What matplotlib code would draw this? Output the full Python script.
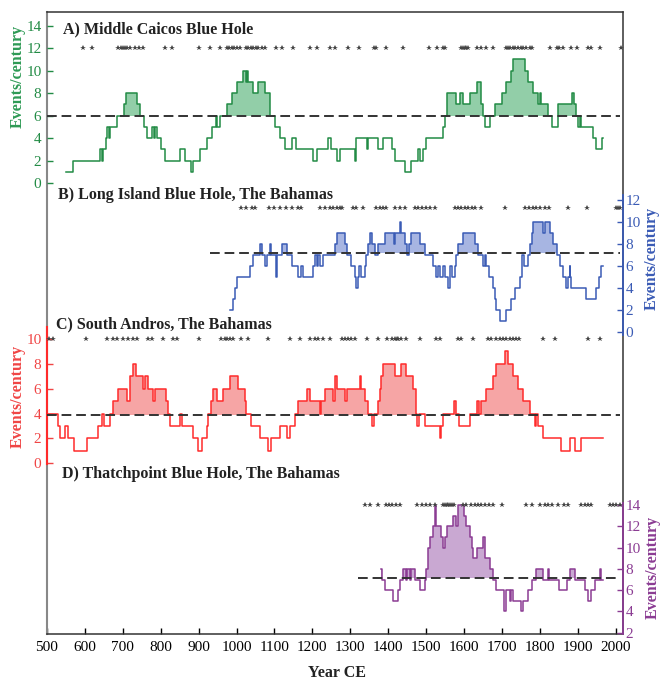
import numpy as np
import matplotlib.pyplot as plt

plt.rcParams['font.family'] = ['Liberation Serif', 'DejaVu Serif']

# 100-yr running event counts: (start year of each step, count)
a_years = [549, 568, 640, 644, 649, 656, 659, 663, 666, 684, 703, 708, 738, 745, 756, 763, 776, 782,
           785, 789, 802, 811, 851, 864, 881, 886, 903, 921, 934, 946, 949, 956, 974, 987, 1002, 1018,
           1024, 1028, 1031, 1044, 1057, 1075, 1088, 1101, 1114, 1127, 1145, 1158, 1202, 1211, 1242,
           1249, 1264, 1272, 1312, 1316, 1343, 1347, 1373, 1387, 1409, 1417, 1444, 1461, 1479, 1483,
           1492, 1501, 1545, 1549, 1554, 1580, 1589, 1597, 1615, 1633, 1646, 1650, 1655, 1668, 1681,
           1699, 1712, 1725, 1729, 1760, 1769, 1782, 1795, 1800, 1803, 1822, 1833, 1848, 1885, 1889,
           1896, 1901, 1905, 1908, 1940, 1949, 1964]
a_counts = [1, 2, 3, 2, 3, 4, 5, 4, 5, 6, 7, 8, 7, 6, 5, 4, 5, 4,
            5, 4, 3, 2, 3, 2, 1, 2, 3, 4, 5, 6, 5, 6, 7, 8, 9, 10,
            9, 10, 9, 8, 9, 8, 6, 5, 4, 3, 4, 3, 2, 3, 4,
            3, 2, 3, 2, 4, 3, 4, 3, 4, 3, 2, 1, 2, 3, 2,
            3, 4, 5, 6, 8, 7, 8, 7, 8, 9, 7, 6, 5, 6, 7,
            8, 9, 10, 11, 10, 9, 8, 7, 8, 7, 6, 5, 7, 8, 7,
            6, 5, 6, 5, 4, 3, 4]
a_stars = [594, 618, 688, 694, 700, 706, 712, 719, 732, 743, 754, 811, 831, 901, 931, 956, 974, 981,
           987, 994, 1002, 1009, 1024, 1031, 1037, 1044, 1051, 1057, 1066, 1075, 1105, 1119, 1149,
           1193, 1211, 1246, 1259, 1294, 1323, 1362, 1369, 1394, 1438, 1508, 1529, 1545, 1549, 1593,
           1597, 1602, 1606, 1611, 1633, 1646, 1659, 1677, 1710, 1716, 1722, 1729, 1735, 1742, 1749,
           1756, 1764, 1773, 1780, 1826, 1844, 1851, 1861, 1883, 1898, 1927, 1936, 1958, 2015]

b_years = [982, 991, 996, 1002, 1035, 1044, 1062, 1066, 1075, 1079, 1088, 1092, 1103, 1107, 1121,
           1134, 1145, 1163, 1171, 1176, 1202, 1207, 1211, 1215, 1220, 1228, 1259, 1264, 1286, 1290,
           1303, 1312, 1316, 1320, 1323, 1327, 1338, 1341, 1347, 1351, 1358, 1365, 1373, 1391, 1416,
           1419, 1430, 1435, 1444, 1450, 1454, 1461, 1483, 1496, 1518, 1525, 1532, 1536, 1545, 1549,
           1558, 1562, 1569, 1576, 1578, 1584, 1597, 1628, 1637, 1650, 1655, 1657, 1666, 1677, 1681,
           1685, 1696, 1710, 1725, 1734, 1747, 1754, 1758, 1769, 1773, 1778, 1782, 1808, 1813, 1826,
           1835, 1844, 1852, 1861, 1870, 1874, 1879, 1880, 1883, 1923, 1949, 1956, 1962]
b_counts = [2, 3, 4, 5, 6, 7, 8, 7, 6, 7, 8, 7, 5, 7, 8,
            7, 6, 5, 6, 5, 6, 7, 6, 7, 6, 7, 8, 9, 8, 7,
            6, 5, 4, 5, 6, 5, 6, 7, 8, 9, 8, 7, 8, 9, 8,
            9, 10, 9, 8, 7, 8, 9, 8, 7, 6, 5, 6, 5, 6, 5,
            4, 6, 5, 6, 7, 8, 9, 8, 7, 6, 7, 6, 5, 4, 3,
            2, 1, 2, 3, 4, 5, 7, 6, 7, 8, 9, 10, 9, 10, 9,
            8, 7, 6, 5, 4, 5, 6, 5, 4, 3, 4, 5, 6]
b_stars = [1013, 1026, 1040, 1048, 1086, 1098, 1114, 1130, 1145, 1161, 1171, 1220, 1233, 1246, 1255,
           1264, 1272, 1279, 1306, 1316, 1334, 1369, 1378, 1387, 1395, 1417, 1430, 1444, 1470, 1479,
           1490, 1501, 1510, 1523, 1576, 1584, 1593, 1602, 1611, 1620, 1628, 1646, 1707, 1760, 1771,
           1782, 1791, 1801, 1813, 1824, 1874, 1924, 2000, 2006, 2012]

c_years = [500, 530, 534, 547, 556, 571, 606, 635, 644, 650, 666, 675, 688, 710, 719, 728, 736, 754,
           758, 767, 779, 785, 814, 818, 824, 851, 857, 884, 897, 908, 921, 925, 932, 938, 949, 963,
           982, 1004, 1022, 1026, 1037, 1062, 1083, 1090, 1114, 1134, 1141, 1154, 1163, 1185, 1193,
           1220, 1224, 1233, 1255, 1259, 1264, 1286, 1290, 1325, 1328, 1338, 1347, 1358, 1362, 1373,
           1378, 1382, 1387, 1417, 1435, 1448, 1466, 1474, 1476, 1481, 1496, 1536, 1539, 1545, 1573,
           1578, 1587, 1615, 1633, 1640, 1646, 1659, 1677, 1685, 1707, 1716, 1729, 1742, 1756, 1773,
           1786, 1790, 1795, 1808, 1857, 1879, 1892, 1909]
c_counts = [4, 3, 2, 3, 2, 1, 2, 3, 4, 3, 4, 5, 6, 5, 7, 8, 7, 6,
            7, 6, 5, 6, 5, 4, 3, 4, 3, 2, 1, 2, 3, 4, 5, 6, 5, 6,
            7, 6, 5, 4, 3, 2, 1, 2, 3, 2, 3, 4, 5, 6, 5,
            4, 5, 6, 5, 7, 6, 5, 6, 7, 6, 5, 4, 3, 4, 5,
            6, 7, 8, 7, 8, 7, 6, 4, 3, 4, 3, 2, 3, 4, 5,
            4, 3, 4, 5, 4, 5, 6, 7, 8, 9, 8, 7, 6, 5, 4,
            3, 4, 3, 2, 1, 2, 1, 2]
c_stars = [506, 517, 603, 657, 675, 685, 701, 714, 726, 738, 767, 776, 807, 833, 842, 902, 960, 969,
           974, 982, 991, 1013, 1031, 1083, 1141, 1167, 1193, 1207, 1215, 1228, 1246, 1277, 1286,
           1294, 1303, 1312, 1343, 1373, 1397, 1409, 1417, 1422, 1426, 1435, 1446, 1483, 1527, 1536,
           1584, 1593, 1624, 1663, 1672, 1685, 1694, 1703, 1712, 1721, 1729, 1736, 1745, 1808, 1839,
           1927, 1958]

d_years = [1382, 1384, 1391, 1413, 1426, 1432, 1439, 1446, 1450, 1457, 1461, 1470, 1483, 1496, 1501,
           1505, 1511, 1518, 1524, 1527, 1540, 1545, 1549, 1554, 1571, 1580, 1584, 1599, 1606, 1615,
           1620, 1624, 1633, 1650, 1655, 1668, 1677, 1685, 1705, 1710, 1720, 1725, 1729, 1751, 1756,
           1769, 1778, 1791, 1808, 1822, 1824, 1850, 1872, 1879, 1892, 1918, 1927, 1936, 1945, 1958,
           1960]
d_counts = [8, 7, 6, 5, 6, 7, 8, 7, 8, 7, 8, 7, 6, 7, 8,
            10, 11, 12, 14, 12, 11, 10, 11, 12, 13, 12, 14, 13, 12, 11,
            10, 9, 10, 11, 9, 8, 7, 6, 4, 6, 5, 6, 5, 4, 5,
            6, 7, 8, 7, 8, 7, 6, 7, 8, 7, 6, 5, 6, 7, 8,
            7]
d_stars = [1338, 1351, 1373, 1394, 1402, 1411, 1420, 1430, 1476, 1488, 1501, 1510, 1523, 1545, 1549,
           1554, 1558, 1562, 1567, 1573, 1598, 1606, 1619, 1628, 1637, 1646, 1655, 1666, 1677, 1701,
           1764, 1778, 1801, 1813, 1822, 1833, 1848, 1865, 1874, 1909, 1918, 1927, 1936, 1984, 1993,
           2002, 2011]

W, H = 660, 682
XLIM = (500, 2018)


def box(x0, y0, x1, y1):
    """Axes rectangle from pixel corners (origin top-left)."""
    return [x0 / W, 1 - y1 / H, (x1 - x0) / W, (y1 - y0) / H]


def panel(rect, ylim, ticks, side, color):
    ax = fig.add_axes(rect)
    ax.patch.set_visible(False)
    ax.set_xlim(*XLIM)
    ax.set_ylim(*ylim)
    ax.set_xticks([])
    for s in ax.spines.values():
        s.set_visible(False)
    ax.set_yticks(ticks)
    if side == 'right':
        ax.yaxis.tick_right()
        ax.spines['right'].set_visible(True)
        ax.spines['right'].set_color(color)
        ax.spines['right'].set_linewidth(1.3)
        pad = 2
    else:
        pad = 4
    ax.tick_params(axis='y', direction='in', length=4, width=1, color=color,
                   labelcolor=color, labelsize=11, pad=pad)
    return ax


def draw_series(ax, years, counts, end, thr, thr_start, stars, star_y, line_c, fill_c):
    x = np.append(years, end)
    y = np.append(counts, counts[-1]).astype(float)
    ax.fill_between(x, thr, np.maximum(y, thr), step='post', color=fill_c, lw=0, zorder=1)
    ax.step(x, y, where='post', color=line_c, lw=1.1, zorder=3)
    ax.plot([thr_start, 2012], [thr, thr], ls=(0, (5, 2.5)), color='#333333', lw=1.4, zorder=4)
    ax.plot(stars, np.full(len(stars), star_y), ls='none', marker='*', ms=3.8,
            color='#444444', mew=0, clip_on=False, zorder=5)


fig = plt.figure(figsize=(W / 100, H / 100), dpi=100)

# outer frame carrying the shared year axis
frame = fig.add_axes(box(47, 12, 622.5, 634.3))
frame.set_xlim(*XLIM)
frame.set_yticks([])
frame.set_xticks(np.arange(500, 2001, 100))
frame.tick_params(axis='x', direction='in', length=4, width=1, labelsize=11, pad=5)
frame.spines['left'].set_color('#888888')
frame.spines['left'].set_linewidth(1.5)
for s in ('top', 'right', 'bottom'):
    frame.spines[s].set_color('#333333')
    frame.spines[s].set_linewidth(1.1)

green, green_txt, green_fill = '#228B45', '#2E9A55', '#92CEA8'
blue, blue_fill = '#3A5BB5', '#A7B5E2'
red, red_txt, red_fill = '#FF2B2B', '#F04545', '#F6A5A5'
purple, purple_fill = '#8B3C93', '#C9A8D2'

ax_a = panel(box(47, 12, 622.5, 189.5), (-0.58, 15.22), range(0, 15, 2), 'left', green)
ax_b = panel(box(47, 195, 622.5, 335), (-0.245, 12.45), range(0, 13, 2), 'right', blue)
ax_c = panel(box(47, 327, 622.5, 463.6), (-0.03, 10.97), range(0, 11, 2), 'left', red_txt)
ax_c.spines['left'].set_visible(True)
ax_c.spines['left'].set_color(red)
ax_c.spines['left'].set_linewidth(1.5)
ax_d = panel(box(47, 503, 622.5, 634.3), (1.85, 14.19), range(2, 15, 2), 'right', purple)

draw_series(ax_a, a_years, a_counts, 1966, 6.0, 500, a_stars, 12, green, green_fill)
draw_series(ax_b, b_years, b_counts, 1966, 7.15, 930, b_stars, 11.25, blue, blue_fill)
draw_series(ax_c, c_years, c_counts, 1966, 3.86, 500, c_stars, 10, red, red_fill)
draw_series(ax_d, d_years, d_counts, 1966, 7.1, 1320, d_stars, 14, purple, purple_fill)

titles = [("A) Middle Caicos Blue Hole", 63, 29),
          ("B) Long Island Blue Hole, The Bahamas", 58, 195),
          ("C) South Andros, The Bahamas", 56, 324),
          ("D) Thatchpoint Blue Hole, The Bahamas", 62, 474)]
for txt, px, py in titles:
    fig.text(px / W, 1 - py / H, txt, fontsize=11.5, fontweight='bold', color='#222222',
             ha='left', va='center')

ylabels = [(18, 76, green_txt), (652, 258, blue), (18, 396, red_txt), (653, 567, purple)]
for px, py, col in ylabels:
    fig.text(px / W, 1 - py / H, "Events/century", fontsize=11.5, fontweight='bold', color=col,
             rotation=90, ha='center', va='center')

fig.text(337 / W, 1 - 673 / H, "Year CE", fontsize=11.5, fontweight='bold', color='#222222',
         ha='center', va='center')

fig.savefig("out.png", dpi=100)
